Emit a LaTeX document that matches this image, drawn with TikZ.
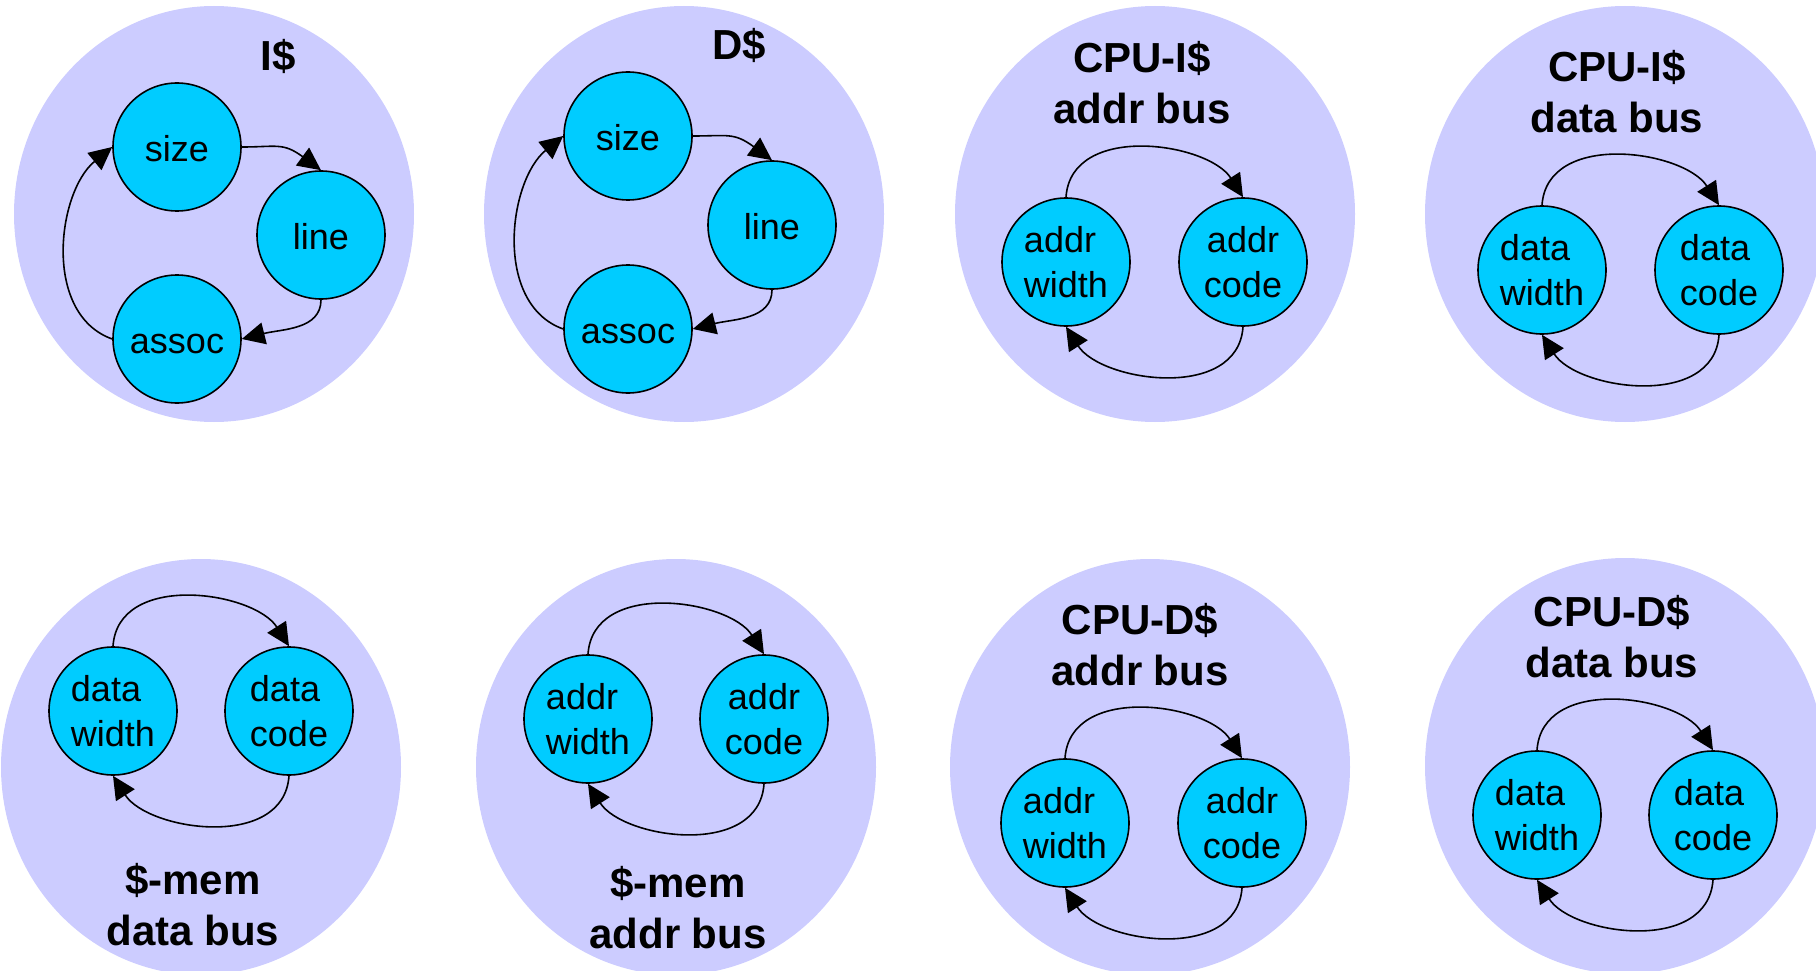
\documentclass[tikz,border=0pt]{standalone}
\usepackage{fontspec}
\setmainfont{Liberation Sans}
\usetikzlibrary{arrows.meta}
\definecolor{cloud}{RGB}{204,204,255}
\definecolor{state}{RGB}{0,204,255}
\tikzset{
  group/.style={fill=cloud, draw=none},
  fsm/.style={circle, draw=black, line width=1.6pt, fill=state, minimum size=128pt,
    inner sep=0pt, font=\fontsize{36}{45}\selectfont},
  oneline/.style={text height=28pt, text depth=0pt},
  twoleft/.style={align=left},
  twocenter/.style={align=center},
  title/.style={font=\fontsize{42}{51}\selectfont\bfseries, inner sep=0pt, align=center},
  flow/.style={line width=1.6pt, -{Triangle[length=23pt,width=22pt]}},
}
\begin{document}
\begin{tikzpicture}[x=1pt,y=-1pt]
\clip (0,0) rectangle (1816,971);

% ---------- I$ ----------
\fill[group] (214,214) ellipse [x radius=200pt, y radius=208pt];
\node[title, anchor=base] (tA) at (278,71) {I\$};
\node[fsm, oneline] (a1) at (177,147) {size};
\node[fsm, oneline] (a2) at (321,235) {line};
\node[fsm, oneline] (a3) at (177,339) {assoc};
\draw[flow] (a1.east) .. controls +(35,0) and +(-38,-28) .. (a2.north);
\draw[flow] (a2.south) .. controls +(0,30) and +(40,-10) .. (a3.east);
\draw[flow] (a3.west) .. controls +(-70,-25) and +(-55,45) .. (a1.west);

% ---------- D$ ----------
\fill[group] (684,214) ellipse [x radius=200pt, y radius=208pt];
\node[title, anchor=base] (tB) at (739,60) {D\$};
\node[fsm, oneline] (b1) at (628,136) {size};
\node[fsm, oneline] (b2) at (772,225) {line};
\node[fsm, oneline] (b3) at (628,329) {assoc};
\draw[flow] (b1.east) .. controls +(35,0) and +(-38,-28) .. (b2.north);
\draw[flow] (b2.south) .. controls +(0,30) and +(40,-10) .. (b3.east);
\draw[flow] (b3.west) .. controls +(-70,-25) and +(-55,45) .. (b1.west);

% ---------- CPU-I$ addr bus ----------
\fill[group] (1155,214) ellipse [x radius=200pt, y radius=208pt];
\node[title] (tC) at (1142,82.5) {CPU-I\$\\addr bus};
\node[fsm, twoleft] (c1) at (1066,262) {addr\\width};
\node[fsm, twocenter] (c2) at (1243,262) {addr\\code};
\draw[flow] (c1.north) .. controls +(5,-75) and +(-35,-55) .. (c2.north);
\draw[flow] (c2.south) .. controls +(-5,75) and +(35,55) .. (c1.south);

% ---------- CPU-I$ data bus ----------
\fill[group] (1625,214) ellipse [x radius=200pt, y radius=208pt];
\node[title] (tD) at (1617,91.5) {CPU-I\$\\data bus};
\node[fsm, twoleft] (d1) at (1542,270) {data\\width};
\node[fsm, twoleft] (d2) at (1719,270) {data\\code};
\draw[flow] (d1.north) .. controls +(5,-75) and +(-35,-55) .. (d2.north);
\draw[flow] (d2.south) .. controls +(-5,75) and +(35,55) .. (d1.south);

% ---------- $-mem data bus ----------
\fill[group] (201,767) ellipse [x radius=200pt, y radius=208pt];
\node[title] (tE) at (193,904.5) {\$-mem\\data bus};
\node[fsm, twoleft] (e1) at (113,711) {data\\width};
\node[fsm, twoleft] (e2) at (289,711) {data\\code};
\draw[flow] (e1.north) .. controls +(5,-75) and +(-35,-55) .. (e2.north);
\draw[flow] (e2.south) .. controls +(-5,75) and +(35,55) .. (e1.south);

% ---------- $-mem addr bus ----------
\fill[group] (676,767) ellipse [x radius=200pt, y radius=208pt];
\node[title] (tF) at (678,907.5) {\$-mem\\addr bus};
\node[fsm, twoleft] (f1) at (588,719) {addr\\width};
\node[fsm, twocenter] (f2) at (764,719) {addr\\code};
\draw[flow] (f1.north) .. controls +(5,-75) and +(-35,-55) .. (f2.north);
\draw[flow] (f2.south) .. controls +(-5,75) and +(35,55) .. (f1.south);

% ---------- CPU-D$ addr bus ----------
\fill[group] (1150,767) ellipse [x radius=200pt, y radius=208pt];
\node[title] (tG) at (1140,644.5) {CPU-D\$\\addr bus};
\node[fsm, twoleft] (g1) at (1065,823) {addr\\width};
\node[fsm, twocenter] (g2) at (1242,823) {addr\\code};
\draw[flow] (g1.north) .. controls +(5,-75) and +(-35,-55) .. (g2.north);
\draw[flow] (g2.south) .. controls +(-5,75) and +(35,55) .. (g1.south);

% ---------- CPU-D$ data bus ----------
\fill[group] (1625,766) ellipse [x radius=200pt, y radius=208pt];
\node[title] (tH) at (1612,636.5) {CPU-D\$\\data bus};
\node[fsm, twoleft] (h1) at (1537,815) {data\\width};
\node[fsm, twoleft] (h2) at (1713,815) {data\\code};
\draw[flow] (h1.north) .. controls +(5,-75) and +(-35,-55) .. (h2.north);
\draw[flow] (h2.south) .. controls +(-5,75) and +(35,55) .. (h1.south);
\end{tikzpicture}
\end{document}
